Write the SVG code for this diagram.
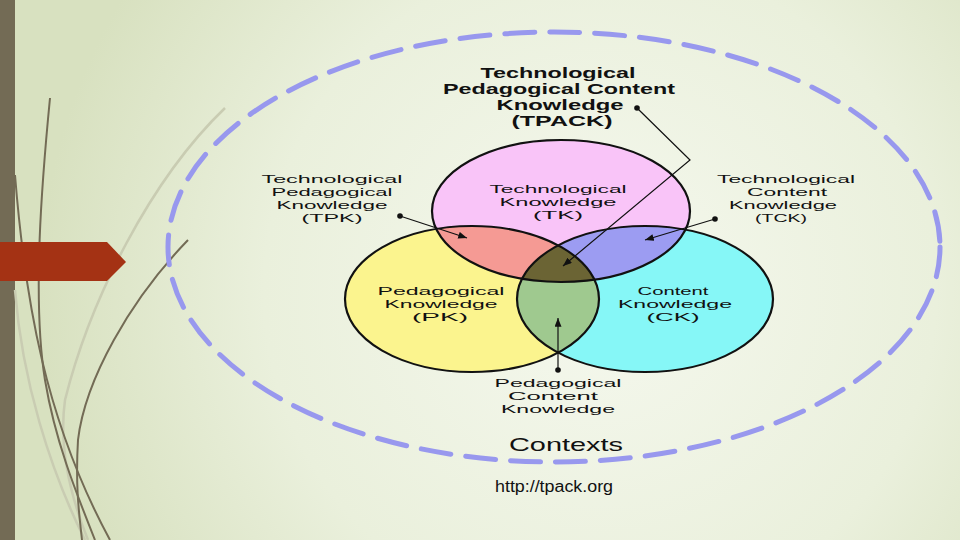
<svg xmlns="http://www.w3.org/2000/svg" width="960" height="540" viewBox="0 0 960 540">
  <defs>
    <radialGradient id="bg" cx="600" cy="290" r="560" gradientUnits="userSpaceOnUse">
      <stop offset="0" stop-color="#f5f8ee"/>
      <stop offset="0.6" stop-color="#eaf0dc"/>
      <stop offset="1" stop-color="#d8e1c0"/>
    </radialGradient>
    <clipPath id="clipTK"><ellipse cx="561" cy="211" rx="129" ry="71"/></clipPath>
    <clipPath id="clipPK"><ellipse cx="472" cy="299" rx="127" ry="73"/></clipPath>
    <marker id="arr" viewBox="0 0 10 8" refX="10" refY="4" markerWidth="9" markerHeight="7" markerUnits="userSpaceOnUse" orient="auto">
      <path d="M0,0 L10,4 L0,8 z" fill="#111"/>
    </marker>
    <style>
      .lbl { font-family: "Liberation Sans", Arial, sans-serif; font-size: 11.6px; fill: #111; text-anchor: middle; }
      .bold { font-weight: bold; font-size: 14px; }
      .ring { fill: none; stroke: #111; stroke-width: 2.2; }
      .conn { fill: none; stroke: #111; stroke-width: 1.2; }
      .dot { fill: #111; }
      .deco { fill: none; stroke: #736b55; stroke-width: 2; }
      .decol { fill: none; stroke: #c9ccb2; stroke-width: 2.5; }
    </style>
  </defs>

  <rect width="960" height="540" fill="url(#bg)"/>

  <!-- left decoration -->
  <g id="decoration">
    <rect x="0" y="0" width="15" height="540" fill="#736b55"/>
    <path class="decol" d="M225,108 C150,180 90,300 65,400 C58,450 72,500 88,540"/>
    <path class="decol" d="M15,290 C22,380 50,470 85,540"/>
    <path class="deco" d="M50,98 C42,180 32,300 45,380 C55,440 75,490 95,540"/>
    <path class="deco" d="M15,175 C25,300 45,420 110,540"/>
    <path class="deco" d="M188,240 C130,300 85,380 78,440 C75,490 80,520 82,540"/>
    <path d="M0,242 L107,242 L126,262 L107,281 L0,281 z" fill="#a43214"/>
  </g>

  <!-- contexts ring -->
  <g id="contexts">
    <ellipse cx="554" cy="247" rx="386" ry="215" fill="none" stroke="#9898ee" stroke-width="5" stroke-dasharray="30 15" stroke-linecap="round"/>
    <text class="lbl" x="566" y="451" style="font-size:19px" textLength="114" lengthAdjust="spacingAndGlyphs">Contexts</text>
  </g>

  <!-- Venn circles -->
  <g id="venn">
    <g id="TK"><ellipse cx="561" cy="211" rx="129" ry="71" fill="#f9c4f8"/></g>
    <g id="PK"><ellipse cx="472" cy="299" rx="127" ry="73" fill="#fbf48e"/></g>
    <g id="CK"><ellipse cx="645" cy="299" rx="128" ry="73" fill="#86f7f7"/></g>
    <g id="TPK"><ellipse cx="472" cy="299" rx="127" ry="73" fill="#f59a94" clip-path="url(#clipTK)"/></g>
    <g id="TCK"><ellipse cx="645" cy="299" rx="128" ry="73" fill="#9c9cf2" clip-path="url(#clipTK)"/></g>
    <g id="PCK"><ellipse cx="645" cy="299" rx="128" ry="73" fill="#9fc98f" clip-path="url(#clipPK)"/></g>
    <g id="TPACK" clip-path="url(#clipTK)"><ellipse cx="645" cy="299" rx="128" ry="73" fill="#6b6434" clip-path="url(#clipPK)"/></g>
    <ellipse class="ring" cx="561" cy="211" rx="129" ry="71"/>
    <ellipse class="ring" cx="472" cy="299" rx="127" ry="73"/>
    <ellipse class="ring" cx="645" cy="299" rx="128" ry="73"/>
  </g>

  <!-- labels inside circles -->
  <g id="label-TK">
    <text class="lbl" x="558" y="193" textLength="137" lengthAdjust="spacingAndGlyphs">Technological</text>
    <text class="lbl" x="558" y="206" textLength="117" lengthAdjust="spacingAndGlyphs">Knowledge</text>
    <text class="lbl" x="558" y="219" textLength="50" lengthAdjust="spacingAndGlyphs">(TK)</text>
  </g>
  <g id="label-PK">
    <text class="lbl" x="441" y="295" textLength="127" lengthAdjust="spacingAndGlyphs">Pedagogical</text>
    <text class="lbl" x="441" y="308" textLength="113" lengthAdjust="spacingAndGlyphs">Knowledge</text>
    <text class="lbl" x="440" y="321" textLength="56" lengthAdjust="spacingAndGlyphs">(PK)</text>
  </g>
  <g id="label-CK">
    <text class="lbl" x="673" y="295" textLength="71" lengthAdjust="spacingAndGlyphs">Content</text>
    <text class="lbl" x="675" y="308" textLength="114" lengthAdjust="spacingAndGlyphs">Knowledge</text>
    <text class="lbl" x="673" y="321" textLength="53" lengthAdjust="spacingAndGlyphs">(CK)</text>
  </g>

  <!-- outer labels -->
  <g id="label-TPACK">
    <text class="lbl bold" x="558" y="78" textLength="155" lengthAdjust="spacingAndGlyphs">Technological</text>
    <text class="lbl bold" x="559" y="94" textLength="232" lengthAdjust="spacingAndGlyphs">Pedagogical Content</text>
    <text class="lbl bold" x="560" y="110" textLength="127" lengthAdjust="spacingAndGlyphs">Knowledge</text>
    <text class="lbl bold" x="562" y="126" textLength="101" lengthAdjust="spacingAndGlyphs">(TPACK)</text>
  </g>
  <g id="label-TPK-outer">
    <text class="lbl" x="332" y="183" textLength="141" lengthAdjust="spacingAndGlyphs">Technological</text>
    <text class="lbl" x="332" y="196" textLength="121" lengthAdjust="spacingAndGlyphs">Pedagogical</text>
    <text class="lbl" x="332" y="209" textLength="111" lengthAdjust="spacingAndGlyphs">Knowledge</text>
    <text class="lbl" x="332" y="222" textLength="61" lengthAdjust="spacingAndGlyphs">(TPK)</text>
  </g>
  <g id="label-TCK-outer">
    <text class="lbl" x="786" y="183" textLength="138" lengthAdjust="spacingAndGlyphs">Technological</text>
    <text class="lbl" x="787" y="196" textLength="80" lengthAdjust="spacingAndGlyphs">Content</text>
    <text class="lbl" x="783" y="209" textLength="108" lengthAdjust="spacingAndGlyphs">Knowledge</text>
    <text class="lbl" x="781" y="222" textLength="52" lengthAdjust="spacingAndGlyphs">(TCK)</text>
  </g>
  <g id="label-PCK-outer">
    <text class="lbl" x="558" y="387" textLength="127" lengthAdjust="spacingAndGlyphs">Pedagogical</text>
    <text class="lbl" x="553" y="400" textLength="90" lengthAdjust="spacingAndGlyphs">Content</text>
    <text class="lbl" x="558" y="413" textLength="114" lengthAdjust="spacingAndGlyphs">Knowledge</text>
  </g>

  <!-- connectors -->
  <g id="connectors">
    <polyline class="conn" points="637,108 690,160 563,266" marker-end="url(#arr)"/>
    <circle class="dot" cx="637" cy="108" r="2.8"/>
    <line class="conn" x1="400" y1="216" x2="467" y2="238" marker-end="url(#arr)"/>
    <circle class="dot" cx="400" cy="216" r="2.8"/>
    <line class="conn" x1="715" y1="219" x2="645" y2="240" marker-end="url(#arr)"/>
    <circle class="dot" cx="715" cy="219" r="2.8"/>
    <line class="conn" x1="558" y1="370" x2="558" y2="318" marker-end="url(#arr)"/>
    <circle class="dot" cx="558" cy="370" r="2.8"/>
  </g>

  <text x="554" y="492" style="font-family:'Liberation Sans',Arial,sans-serif;font-size:16px;fill:#111;text-anchor:middle" textLength="118" lengthAdjust="spacingAndGlyphs">http://tpack.org</text>
</svg>
